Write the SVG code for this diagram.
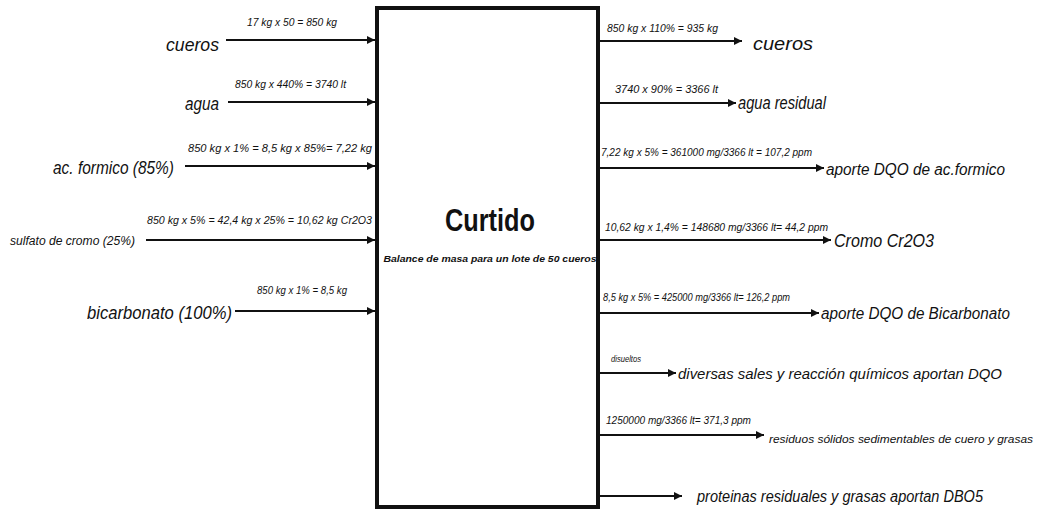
<svg xmlns="http://www.w3.org/2000/svg" width="1039" height="519" viewBox="0 0 1039 519">
<defs>
<marker id="ah" viewBox="0 0 10 10" refX="10" refY="5" markerWidth="9" markerHeight="8" markerUnits="userSpaceOnUse" orient="auto">
<path d="M0,0 L10,5 L0,10 z" fill="#111"/>
</marker>
</defs>
<style>
text{font-family:"Liberation Sans","Arial",sans-serif;fill:#111;font-style:italic}
.sm{font-size:11px}
.lb{font-size:18px}
.lm{font-size:16px}
.ln{stroke:#111;stroke-width:2;fill:none;marker-end:url(#ah)}
</style>
<rect width="1039" height="519" fill="#fff"/>
<g id="box">
<rect x="377" y="8" width="221" height="499" fill="#fff" stroke="#111" stroke-width="4"/>
<line x1="375" y1="507.5" x2="600" y2="507.5" stroke="#111" stroke-width="3"/>
<text x="490" y="231" text-anchor="middle" style="font-style:normal;font-weight:bold;font-size:31px" textLength="90" lengthAdjust="spacingAndGlyphs">Curtido</text>
<text x="490" y="262" text-anchor="middle" style="font-weight:bold;font-size:9px" textLength="213" lengthAdjust="spacingAndGlyphs">Balance de masa para un lote de 50 cueros</text>
</g>
<g id="connectors">
<line class="ln" x1="226" y1="40" x2="375" y2="40"/>
<line class="ln" x1="228" y1="102" x2="375" y2="102"/>
<line class="ln" x1="185" y1="166" x2="375" y2="166"/>
<line class="ln" x1="146" y1="240" x2="375" y2="240"/>
<line class="ln" x1="235" y1="311" x2="375" y2="311"/>
<line class="ln" x1="599" y1="41" x2="742" y2="41"/>
<line class="ln" x1="599" y1="103" x2="736" y2="103"/>
<line class="ln" x1="599" y1="168" x2="824" y2="168"/>
<line class="ln" x1="599" y1="240" x2="831" y2="240"/>
<line class="ln" x1="599" y1="313" x2="819" y2="313"/>
<line class="ln" x1="599" y1="373" x2="676" y2="373"/>
<line class="ln" x1="599" y1="435" x2="764" y2="435"/>
<line class="ln" x1="599" y1="496" x2="682" y2="496"/>
</g>
<g id="in-cueros">
<text class="lb" x="166" y="51" textLength="53" lengthAdjust="spacingAndGlyphs">cueros</text>
<text class="sm" x="247" y="26" textLength="90" lengthAdjust="spacingAndGlyphs">17 kg x 50 = 850 kg</text>
</g>
<g id="in-agua">
<text class="lb" x="185" y="110" textLength="34" lengthAdjust="spacingAndGlyphs">agua</text>
<text class="sm" x="235" y="88" textLength="111" lengthAdjust="spacingAndGlyphs">850 kg x 440% = 3740 lt</text>
</g>
<g id="in-formico">
<text class="lb" x="53" y="174" textLength="121" lengthAdjust="spacingAndGlyphs">ac. formico (85%)</text>
<text class="sm" x="188" y="152" textLength="184" lengthAdjust="spacingAndGlyphs">850 kg x 1% = 8,5 kg  x 85%= 7,22 kg</text>
</g>
<g id="in-sulfato">
<text x="10" y="245" style="font-size:12px" textLength="125" lengthAdjust="spacingAndGlyphs">sulfato de cromo (25%)</text>
<text class="sm" x="147" y="224" textLength="225" lengthAdjust="spacingAndGlyphs">850 kg x 5% = 42,4 kg x 25% = 10,62 kg Cr2O3</text>
</g>
<g id="in-bicarbonato">
<text class="lb" x="87" y="319" textLength="145" lengthAdjust="spacingAndGlyphs">bicarbonato (100%)</text>
<text class="sm" x="257" y="294" textLength="90" lengthAdjust="spacingAndGlyphs">850 kg x 1% = 8,5 kg</text>
</g>
<g id="out-cueros">
<text class="lb" x="753" y="50" textLength="60" lengthAdjust="spacingAndGlyphs">cueros</text>
<text class="sm" x="607" y="32" textLength="111" lengthAdjust="spacingAndGlyphs">850 kg x 110% = 935 kg</text>
</g>
<g id="out-agua">
<text class="lb" x="738" y="109" textLength="88" lengthAdjust="spacingAndGlyphs">agua residual</text>
<text class="sm" x="615" y="93" textLength="103" lengthAdjust="spacingAndGlyphs">3740 x 90% = 3366 lt</text>
</g>
<g id="out-formico">
<text class="lm" x="826" y="175" textLength="179" lengthAdjust="spacingAndGlyphs">aporte DQO de ac.formico</text>
<text class="sm" x="601" y="156" textLength="211" lengthAdjust="spacingAndGlyphs">7,22 kg x 5% = 361000 mg/3366 lt = 107,2 ppm</text>
</g>
<g id="out-cromo">
<text class="lb" x="834" y="247" textLength="100" lengthAdjust="spacingAndGlyphs">Cromo Cr2O3</text>
<text class="sm" x="605" y="231" textLength="223" lengthAdjust="spacingAndGlyphs">10,62 kg x 1,4% = 148680 mg/3366 lt= 44,2 ppm</text>
</g>
<g id="out-bicarbonato">
<text class="lm" x="821" y="319" textLength="189" lengthAdjust="spacingAndGlyphs">aporte DQO de Bicarbonato</text>
<text class="sm" x="603" y="301" textLength="187" lengthAdjust="spacingAndGlyphs">8,5 kg x 5% = 425000 mg/3366 lt= 126,2 ppm</text>
</g>
<g id="out-sales">
<text x="678" y="379" style="font-size:15px" textLength="324" lengthAdjust="spacingAndGlyphs">diversas sales y reacción químicos aportan DQO</text>
<text x="611" y="362" style="font-size:9px" textLength="30" lengthAdjust="spacingAndGlyphs">disueltos</text>
</g>
<g id="out-residuos">
<text x="769" y="443" style="font-size:11px" textLength="264" lengthAdjust="spacingAndGlyphs">residuos sólidos sedimentables de cuero y grasas</text>
<text class="sm" x="606" y="424" textLength="145" lengthAdjust="spacingAndGlyphs">1250000 mg/3366 lt= 371,3 ppm</text>
</g>
<g id="out-proteinas">
<text class="lm" x="697" y="502" textLength="286" lengthAdjust="spacingAndGlyphs">proteinas residuales y grasas aportan DBO5</text>
</g>
</svg>
